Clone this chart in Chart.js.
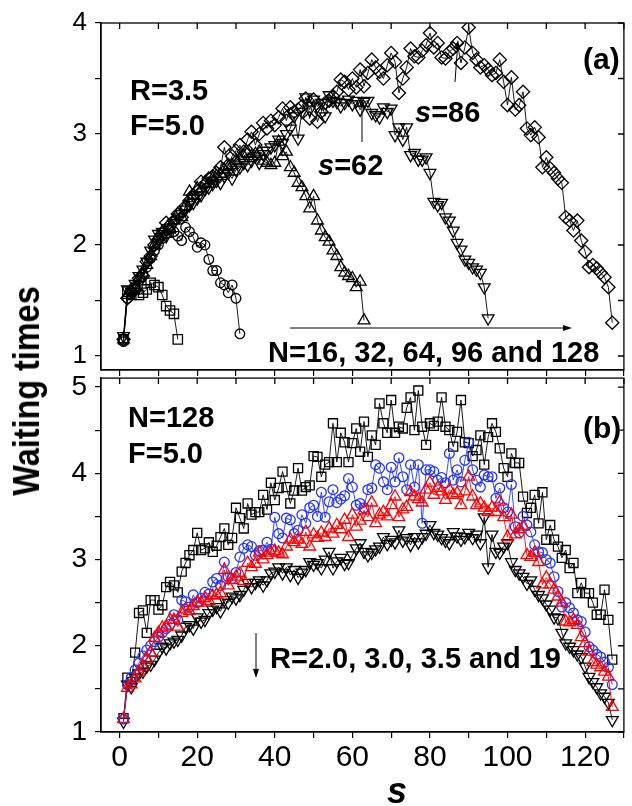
<!DOCTYPE html>
<html>
<head>
<meta charset="utf-8">
<script src="https://cdn.jsdelivr.net/npm/chart.js@4.4.0/dist/chart.umd.min.js"></script>
<style>
  body { margin: 0; background: #fff; width: 632px; height: 806px; position: relative; overflow: hidden; font-family: "Liberation Sans", Arial, sans-serif; }
  #boxA { position: absolute; left: 0; top: 0; width: 632px; height: 380px; }
  #boxB { position: absolute; left: 0; top: 370px; width: 632px; height: 436px; }
  #ytitle { position: absolute; left: 27px; top: 391px; transform: translate(-50%, -50%) rotate(-90deg) scaleX(0.9); font-weight: bold; font-size: 36px; line-height: 36px; white-space: nowrap; color: #000; }
</style>
</head>
<body>
<div id="boxA"><canvas id="chartA" width="632" height="380"></canvas></div>
<div id="boxB"><canvas id="chartB" width="632" height="436"></canvas></div>
<div id="ytitle">Waiting times</div>
<script>
// panel (a): R=3.5, F=5.0, waiting time at site s for N = 16, 32, 64, 96, 128
const n16 = [1.15,1.58,1.55,1.60,1.55,1.57,1.60,1.66,1.64,1.62,1.55,1.45,1.41,1.38,1.15];
const n32 = [1.13,1.52,1.58,1.62,1.68,1.74,1.80,1.88,1.95,2.00,2.06,2.10,2.14,2.12,2.08,2.04,
  2.16,2.12,2.07,1.98,2.02,2.00,1.87,1.77,1.77,1.66,1.64,1.57,1.64,1.52,1.20];
const n64 = [1.15,1.55,1.60,1.62,1.70,1.75,1.82,1.90,2.00,2.08,
  2.12,2.10,2.15,2.22,2.28,2.25,2.35,2.48,2.45,2.51,
  2.50,2.56,2.55,2.60,2.62,2.64,2.68,2.70,2.72,2.76,
  2.78,2.80,2.83,2.80,2.82,2.84,2.76,2.74,2.72,2.74,
  2.93,2.80,2.84,2.70,2.65,2.56,2.52,2.44,2.33,2.44,
  2.22,2.13,2.07,2.03,1.95,1.90,1.80,1.75,1.72,1.70,
  1.62,1.67,1.32];
const n96 = [1.18,1.60,1.58,1.65,1.72,1.78,1.85,1.95,2.05,2.10,
  2.12,2.08,2.15,2.20,2.25,2.28,2.32,2.36,2.38,2.42,
  2.45,2.50,2.52,2.55,2.58,2.56,2.62,2.65,2.60,2.68,
  2.70,2.74,2.72,2.76,2.80,2.74,2.82,2.85,2.88,2.90,
  2.95,2.92,3.00,3.05,3.16,2.96,3.20,3.33,3.22,3.31,
  3.25,3.28,3.16,3.35,3.30,3.29,3.25,3.28,3.31,3.27,
  3.30,3.22,3.29,3.30,3.19,3.17,3.15,3.24,3.20,3.23,
  2.99,3.06,2.95,3.06,2.81,2.83,2.77,2.77,2.79,2.65,
  2.39,2.36,2.38,2.25,2.22,2.13,2.02,1.96,1.87,1.84,
  1.80,1.78,1.75,1.62,1.34];
const n128 = [1.15,1.52,1.58,1.60,1.70,1.72,1.85,1.90,2.00,2.05,
  2.10,2.20,2.18,2.22,2.28,2.25,2.35,2.40,2.45,2.48,
  2.57,2.55,2.60,2.62,2.65,2.70,2.88,2.72,2.80,2.85,
  2.90,2.84,2.95,3.02,2.90,3.00,3.10,3.05,3.12,3.08,
  3.15,3.23,3.12,3.24,3.20,3.22,3.25,3.32,3.14,3.31,
  3.11,3.20,3.28,3.30,3.34,3.38,3.49,3.47,3.40,3.50,
  3.42,3.58,3.43,3.55,3.67,3.60,3.56,3.50,3.62,3.73,
  3.65,3.37,3.50,3.60,3.77,3.70,3.69,3.75,3.80,3.91,
  3.78,3.82,3.69,3.68,3.74,3.77,3.82,3.64,3.78,3.96,
  3.73,3.67,3.60,3.62,3.58,3.53,3.55,3.67,3.47,3.26,
  3.51,3.22,3.26,3.38,3.05,2.99,3.06,2.97,2.70,2.79,
  2.69,2.65,2.60,2.56,2.25,2.22,2.13,2.22,2.04,1.94,
  1.80,1.82,1.79,1.75,1.71,1.62,1.30];

// panel (b): N=128, F=5.0, R = 2.0, 3.0, 3.5 and 19
const r20 = [1.16,1.63,1.58,1.92,2.38,2.41,2.15,2.53,2.53,2.42,
  2.47,2.68,2.74,2.70,2.62,2.86,2.96,3.05,3.11,3.31,
  3.11,3.13,3.20,3.09,3.16,3.26,3.36,3.17,3.25,3.60,
  3.48,3.36,3.65,3.52,3.55,3.55,3.75,3.58,3.89,3.69,
  3.83,4.02,3.84,3.65,3.80,4.06,3.80,3.84,3.86,4.20,
  4.19,3.96,4.10,4.13,4.58,4.13,4.47,4.36,4.13,4.35,
  4.52,4.25,4.60,4.19,4.44,4.33,4.81,4.58,4.47,4.85,
  4.47,4.54,4.52,4.76,4.88,4.50,4.96,4.54,4.33,4.58,
  4.55,4.60,4.88,4.54,4.50,4.31,4.48,4.85,4.36,4.35,
  4.20,4.27,4.44,4.10,4.42,4.58,4.48,4.29,4.06,3.96,
  4.23,4.12,4.12,3.73,3.54,3.60,3.75,3.42,3.78,3.23,
  3.40,3.23,3.15,3.02,3.11,2.90,2.96,2.61,2.73,2.61,
  2.61,2.50,2.36,2.36,2.65,2.30,1.84];
const r30 = [1.15,1.55,1.63,1.72,1.80,1.88,1.95,2.00,2.05,2.10,
  2.15,2.20,2.25,2.36,2.30,2.53,2.51,2.45,2.59,2.50,
  2.55,2.62,2.60,2.74,2.78,2.70,2.97,2.80,2.78,2.85,
  3.03,3.13,3.17,3.15,3.05,3.10,3.11,3.20,3.12,3.49,
  3.30,3.25,3.48,3.46,3.30,3.34,3.52,3.42,3.60,3.63,
  3.50,3.78,3.49,3.67,3.81,3.66,3.70,3.74,3.94,3.84,
  3.63,3.65,3.60,3.81,3.83,4.10,4.06,3.90,3.81,4.07,
  3.90,4.18,3.96,3.81,4.10,3.84,4.10,3.42,4.04,4.04,
  4.02,3.92,3.95,3.89,4.23,3.92,4.04,3.90,4.15,4.36,
  4.04,3.92,3.84,3.98,3.96,3.96,3.71,3.83,3.60,3.55,
  3.87,3.38,3.31,3.50,3.40,3.32,3.17,3.09,3.08,3.00,
  2.96,2.80,2.63,2.45,2.50,2.44,2.38,2.30,2.28,2.16,
  1.99,1.95,1.90,1.87,1.81,1.75,1.55];
const r35 = [1.15,1.51,1.55,1.62,1.70,1.76,1.85,1.92,2.09,2.15,
  2.21,2.22,2.30,2.30,2.22,2.38,2.42,2.40,2.46,2.50,
  2.50,2.55,2.52,2.58,2.59,2.61,2.88,2.70,2.76,2.80,
  2.84,2.75,2.96,2.91,2.95,3.08,3.00,3.05,3.08,3.10,
  3.08,3.06,3.15,3.23,3.20,3.23,3.18,3.32,3.15,3.29,
  3.25,3.31,3.26,3.36,3.30,3.40,3.35,3.46,3.26,3.52,
  3.38,3.45,3.57,3.49,3.66,3.42,3.52,3.55,3.50,3.63,
  3.73,3.49,3.58,3.61,3.78,3.73,3.70,3.66,3.81,3.89,
  3.75,3.83,3.79,3.69,3.81,3.75,3.77,3.63,3.79,3.96,
  3.73,3.63,3.65,3.60,3.55,3.60,3.55,3.67,3.49,3.26,
  3.52,3.29,3.35,3.38,3.05,3.03,3.08,2.97,2.71,2.79,
  2.71,2.65,2.57,2.50,2.28,2.27,2.30,2.24,2.10,2.03,
  1.93,1.81,1.78,1.75,1.70,1.64,1.29];
const r19 = [1.12,1.55,1.52,1.63,1.68,1.70,1.76,1.78,1.84,1.92,
  1.99,1.97,2.03,2.05,2.07,2.12,2.22,2.24,2.20,2.33,
  2.28,2.30,2.38,2.42,2.45,2.40,2.53,2.50,2.57,2.55,
  2.59,2.65,2.73,2.68,2.73,2.76,2.70,2.76,2.84,2.86,
  2.91,2.84,2.91,2.82,2.88,2.79,2.85,2.88,2.97,2.94,
  2.96,2.90,3.00,3.09,2.90,2.98,3.02,2.95,2.96,3.05,
  3.13,3.19,3.09,3.05,3.08,3.12,3.15,3.26,3.18,3.23,
  3.20,3.34,3.22,3.25,3.17,3.26,3.20,3.26,3.30,3.40,
  3.31,3.29,3.25,3.22,3.19,3.32,3.27,3.23,3.26,3.31,
  3.25,3.29,3.19,3.49,2.91,3.29,3.09,3.08,3.15,3.19,
  2.97,2.88,2.84,2.80,2.72,2.76,2.65,2.59,2.55,2.48,
  2.42,2.33,2.32,2.15,2.03,1.99,1.95,1.90,1.87,1.76,
  1.64,1.58,1.52,1.45,1.41,1.34,1.14];

const xLabelsB = ["0", "20", "40", "60", "80", "100", "120"];

const FONT = '"Liberation Sans", Arial, sans-serif';
Chart.defaults.font.family = FONT;
Chart.defaults.color = "#000";

// site index s runs 1..N-1
const pts = (arr) => arr.map((v, i) => ({ x: i + 1, y: v }));

function series(arr, style, color, radius, rot) {
    return {
        data: pts(arr),
        showLine: true,
        borderColor: color,
        borderWidth: 0.9,
        pointStyle: style,
        pointRotation: rot || 0,
        pointRadius: radius,
        pointBorderWidth: 1.3,
        pointBorderColor: color,
        pointBackgroundColor: "rgba(0,0,0,0)",
        tension: 0,
    };
}

function txt(ctx, str, x, y, size, style) {
    ctx.font = `${style} ${size}px ${FONT}`;
    ctx.fillText(str, x, y);
    return ctx.measureText(str).width;
}

function arrow(ctx, x1, y1, x2, y2) {
    const ang = Math.atan2(y2 - y1, x2 - x1);
    const hl = 9, hw = 3;
    ctx.beginPath();
    ctx.moveTo(x1, y1);
    ctx.lineTo(x2 - Math.cos(ang) * hl * 0.6, y2 - Math.sin(ang) * hl * 0.6);
    ctx.stroke();
    ctx.beginPath();
    ctx.moveTo(x2, y2);
    ctx.lineTo(x2 - Math.cos(ang) * hl - Math.sin(ang) * hw, y2 - Math.sin(ang) * hl + Math.cos(ang) * hw);
    ctx.lineTo(x2 - Math.cos(ang) * hl + Math.sin(ang) * hw, y2 - Math.sin(ang) * hl - Math.cos(ang) * hw);
    ctx.closePath();
    ctx.fill();
}

// box and inward ticks on top and right
const frame = {
    id: "frame",
    afterDraw(chart) {
        const { ctx, chartArea: a, scales: { x, y } } = chart;
        ctx.save();
        ctx.strokeStyle = "#000";
        ctx.lineWidth = 1.3;
        ctx.strokeRect(a.left, a.top, a.right - a.left, a.bottom - a.top);
        ctx.beginPath();
        x.ticks.forEach((t) => {
            const px = x.getPixelForValue(t.value);
            ctx.moveTo(px, a.top);
            ctx.lineTo(px, a.top + 6);
        });
        y.ticks.forEach((t) => {
            const py = y.getPixelForValue(t.value);
            ctx.moveTo(a.right, py);
            ctx.lineTo(a.right - 6, py);
        });
        ctx.stroke();
        ctx.restore();
    },
};

function axes(yMin, yMax, yFont, showX, xHeight) {
    return {
        x: {
            type: "linear", min: -4.8, max: 130,
            border: { display: true, color: "#000", width: 1.3 },
            grid: { drawOnChartArea: false, drawTicks: true, tickLength: 6, color: "#000", lineWidth: 1.2 },
            ticks: {
                stepSize: 10, includeBounds: false, padding: 2, maxRotation: 0, autoSkip: false,
                font: { size: 30 },
                callback: (v) => (showX && v % 20 === 0 ? xLabelsB[v / 20] : ""),
            },
            afterFit: (s) => { s.height = xHeight; s.paddingLeft = 0; s.paddingRight = 0; },
        },
        y: {
            type: "linear", min: yMin, max: yMax,
            border: { display: true, color: "#000", width: 1.3 },
            grid: { drawOnChartArea: false, drawTicks: true, tickLength: 6, color: "#000", lineWidth: 1.2 },
            ticks: {
                stepSize: 0.5, includeBounds: false, padding: 8, autoSkip: false,
                font: { size: yFont },
                callback: (v) => (Number.isInteger(v) ? String(v) : ""),
            },
            afterFit: (s) => { s.width = 101; s.paddingTop = 0; s.paddingBottom = 0; },
        },
    };
}

const notesA = {
    id: "notesA",
    afterDraw(chart) {
        const ctx = chart.ctx;
        ctx.save();
        ctx.fillStyle = "#000";
        ctx.strokeStyle = "#000";
        ctx.lineWidth = 1;
        txt(ctx, "R=3.5", 130, 100, 29, "bold");
        txt(ctx, "F=5.0", 130, 135, 29, "bold");
        txt(ctx, "(a)", 583, 69, 30, "bold");
        let w = txt(ctx, "s", 318, 175, 29, "italic bold");
        txt(ctx, "=62", 318 + w, 175, 29, "bold");
        w = txt(ctx, "s", 415, 122, 29, "italic bold");
        txt(ctx, "=86", 415 + w, 122, 29, "bold");
        txt(ctx, "N=16, 32, 64, 96 and 128", 268, 362, 29, "bold");
        arrow(ctx, 362, 142, 362, 98);
        arrow(ctx, 455, 82, 458, 40);
        arrow(ctx, 290, 328, 572, 328);
        ctx.restore();
    },
};

const notesB = {
    id: "notesB",
    afterDraw(chart) {
        const ctx = chart.ctx;
        const oy = 370;
        ctx.save();
        ctx.fillStyle = "#000";
        ctx.strokeStyle = "#000";
        ctx.lineWidth = 1;
        txt(ctx, "N=128", 128, 427 - oy, 29, "bold");
        txt(ctx, "F=5.0", 128, 463 - oy, 29, "bold");
        txt(ctx, "(b)", 583, 438 - oy, 30, "bold");
        txt(ctx, "R=2.0, 3.0, 3.5 and 19", 270, 668 - oy, 29, "bold");
        arrow(ctx, 256, 633 - oy, 256, 678 - oy);
        ctx.font = `italic bold 36px ${FONT}`;
        ctx.textAlign = "center";
        ctx.fillText("s", 397, 803 - oy);
        ctx.restore();
    },
};

const common = {
    responsive: false,
    animation: false,
    devicePixelRatio: 1,
    plugins: { legend: { display: false }, tooltip: { enabled: false } },
};

new Chart(document.getElementById("chartA").getContext("2d"), {
    type: "scatter",
    data: {
        datasets: [
            series(n16, "rect", "#000", 6.6),
            series(n32, "circle", "#000", 4.8),
            series(n64, "triangle", "#000", 6.8),
            series(n96, "triangle", "#000", 6.8, 180),
            series(n128, "rectRot", "#000", 6.6),
        ],
    },
    options: {
        ...common,
        layout: { padding: { top: 23, right: 1, left: 0, bottom: 0 } },
        scales: axes(0.874, 4, 26, false, 10),
    },
    plugins: [frame, notesA],
});

new Chart(document.getElementById("chartB").getContext("2d"), {
    type: "scatter",
    data: {
        datasets: [
            series(r35, "triangle", "#ff0000", 6.8),
            series(r30, "circle", "#2233ff", 4.9),
            series(r20, "rect", "#000", 6.4),
            series(r19, "triangle", "#000", 6.8, 180),
        ],
    },
    options: {
        ...common,
        layout: { padding: { top: 8, right: 1, left: 0, bottom: 0 } },
        scales: axes(1, 5.104, 28, true, 74),
    },
    plugins: [frame, notesB],
});
</script>
</body>
</html>
